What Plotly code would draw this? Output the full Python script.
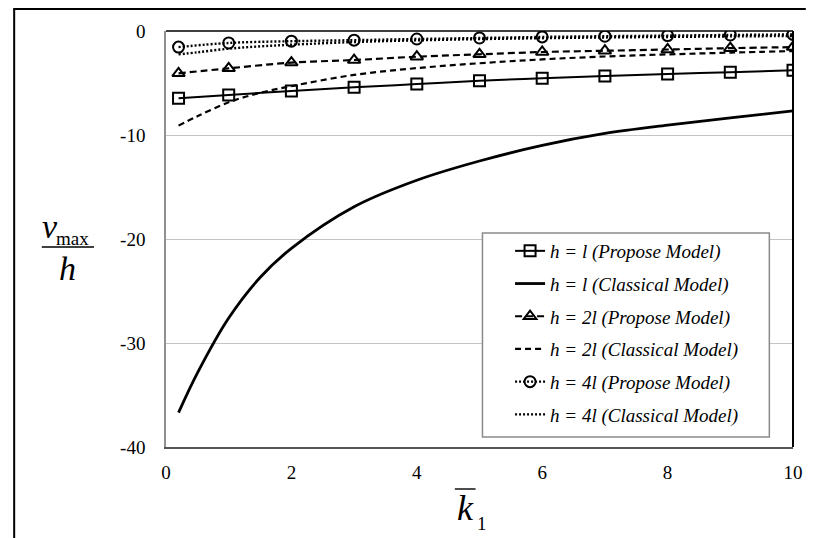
import plotly.graph_objects as go

# ---- data -------------------------------------------------------------
k_prop = [0.2, 1, 2, 3, 4, 5, 6, 7, 8, 9, 10]
k_class = [0.2, 0.5, 1, 1.5, 2, 3, 4, 5, 6, 7, 8, 9, 10]

prop_h1 = [-6.47, -6.15, -5.77, -5.42, -5.10, -4.78, -4.55, -4.33, -4.13, -3.97, -3.78]
prop_h2 = [-4.07, -3.59, -3.04, -2.79, -2.47, -2.24, -2.02, -1.90, -1.78, -1.65, -1.55]
prop_h4 = [-1.55, -1.15, -0.98, -0.88, -0.77, -0.67, -0.57, -0.50, -0.44, -0.38, -0.33]

class_h1 = [-36.7, -32.9, -27.6, -23.7, -20.9, -16.9, -14.35, -12.5, -11.0, -9.85, -9.05, -8.35, -7.68]
class_h2 = [-9.1, -8.2, -6.85, -5.95, -5.3, -4.22, -3.57, -3.1, -2.73, -2.45, -2.25, -2.08, -1.93]
class_h4 = [-2.25, -2.05, -1.7, -1.48, -1.32, -1.06, -0.9, -0.78, -0.69, -0.62, -0.57, -0.52, -0.48]

y_ticks = [0, -10, -20, -30, -40]
y_tick_text = ["0", "-10", "-20", "-30", "-40"]
x_ticks = [0, 2, 4, 6, 8, 10]
x_tick_text = ["0", "2", "4", "6", "8", "10"]

names = [
    "h = l (Propose Model)",
    "h = l (Classical Model)",
    "h = 2l (Propose Model)",
    "h = 2l (Classical Model)",
    "h = 4l (Propose Model)",
    "h = 4l (Classical Model)",
]

# ---- page geometry (pixels) ------------------------------------------
W, H = 815, 538
L, R, T, B = 166, 802, 31, 447
SERIF = "Liberation Serif, Times New Roman, serif"


def px(x):
    return (x - L) / (R - L)


def py(y):
    return (B - y) / (B - T)


fig = go.Figure()


def add(x, y, name, dash, width, symbol=None, group=0):
    mode = "lines+markers" if symbol else "lines"
    fig.add_trace(go.Scatter(
        x=x, y=y, name=f"<i>{name}</i>", mode=mode,
        line=dict(color="black", width=width, dash=dash, shape="spline"),
        marker=dict(symbol=symbol, size=11, color="black",
                    line=dict(color="black", width=2)) if symbol else None,
        legendgroup=f"g{group}",
    ))


add(k_prop, prop_h1, names[0], "solid", 2, "square-open", 0)
add(k_class, class_h1, names[1], "solid", 2.8, None, 1)
add(k_prop, prop_h2, names[2], "7px,4px", 2.2, "triangle-up-open", 2)
add(k_class, class_h2, names[3], "6px,4px", 2.2, None, 3)
add(k_prop, prop_h4, names[4], "2px,2px", 2.4, "circle-open", 4)
add(k_class, class_h4, names[5], "2px,2px", 2.4, None, 5)

shapes = [
    # outer frame (top and left edges)
    dict(type="line", xref="paper", yref="paper", x0=px(11), x1=px(815),
         y0=py(9), y1=py(9), line=dict(color="black", width=2)),
    dict(type="line", xref="paper", yref="paper", x0=px(12), x1=px(12),
         y0=py(9), y1=py(540), line=dict(color="black", width=2)),
    # plot-area frame, top and right in black
    dict(type="line", xref="paper", yref="paper", x0=0, x1=1, y0=1, y1=1,
         line=dict(color="black", width=1.5)),
    dict(type="line", xref="paper", yref="paper", x0=1, x1=1, y0=0, y1=1,
         line=dict(color="black", width=2)),
    # legend box
    dict(type="rect", xref="paper", yref="paper", x0=px(487), x1=px(778),
         y0=py(437), y1=py(233), fillcolor="white",
         line=dict(color="#8a8a8a", width=1.5), layer="above"),
    # fraction bar of the y title
    dict(type="line", xref="paper", yref="paper", x0=px(40), x1=px(93),
         y0=py(247), y1=py(247), line=dict(color="black", width=1.3)),
    # overbar of the x title
    dict(type="line", xref="paper", yref="paper", x0=px(459), x1=px(480),
         y0=py(489), y1=py(489), line=dict(color="black", width=1.4)),
]


def label(text, x, y, size):
    return dict(text=text, x=px(x), y=py(y), xref="paper", yref="paper",
                xanchor="center", yanchor="middle", showarrow=False,
                font=dict(family=SERIF, size=size, color="black"))


annotations = [
    label("<i>v</i>", 48, 226, 34),
    label("max", 71, 238, 19),
    label("<i>h</i>", 66, 268, 34),
    label("<i>k</i>", 470, 508, 36),
    label("1", 487, 523, 19),
]

fig.update_layout(
    width=W, height=H,
    margin=dict(l=L, r=W - R, t=T, b=H - B),
    paper_bgcolor="white", plot_bgcolor="white",
    font=dict(family=SERIF, size=19, color="black"),
    showlegend=True,
    legend=dict(x=px(515), y=py(232), xanchor="left", yanchor="top",
                bgcolor="rgba(0,0,0,0)", borderwidth=0,
                font=dict(family=SERIF, size=19, color="black"),
                tracegroupgap=5, itemwidth=30),
    shapes=shapes,
    annotations=annotations,
    xaxis=dict(range=[0, 10], tickvals=x_ticks, ticktext=x_tick_text,
               showgrid=False, zeroline=False, showline=True,
               linecolor="#555555", linewidth=1.5, ticks="",
               ticklabelstandoff=7,
               tickfont=dict(family=SERIF, size=19, color="black")),
    yaxis=dict(range=[-40, 0], tickvals=y_ticks, ticktext=y_tick_text,
               showgrid=True, gridcolor="#c4c4c4", gridwidth=1,
               zeroline=False, showline=True, linecolor="#909090",
               linewidth=1.5, ticks="", ticklabelstandoff=15,
               tickfont=dict(family=SERIF, size=19, color="black")),
)

fig.write_html("out.html")
